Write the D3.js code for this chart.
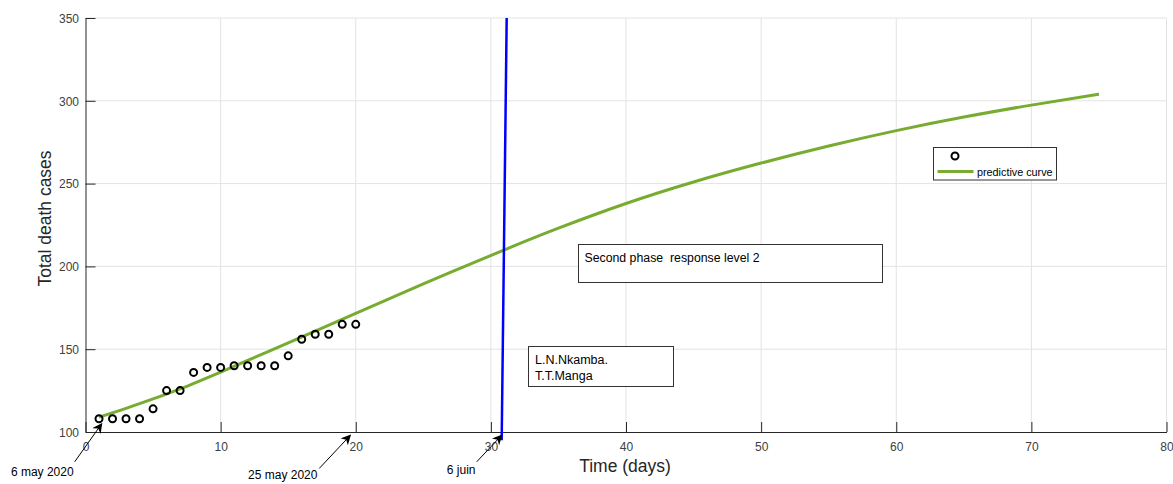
<!DOCTYPE html>
<html><head><meta charset="utf-8">
<script src="https://cdn.jsdelivr.net/npm/d3@7"></script>
<style>
html,body{margin:0;padding:0;background:#fff;}
text{font-family:"Liberation Sans",Arial,Helvetica,sans-serif;}
</style></head>
<body><svg id="chart" width="1173" height="484"></svg>
<script>
// ---- data ----
const days = [1,2,3,4,5,6,7,8,9,10,11,12,13,14,15,16,17,18,19,20];
const deaths = [108,108,108,108,114,125,125,136,139,139,140,140,140,140,146,156,159,159,165,165];
const curveX = [1,3,5,7,10,12,15,17,20,25,31,35,40,45,50,55,60,65,70,75];
const curveY = [109,114.3,120,126,136.2,143.2,153.8,160.9,171.6,189.4,210,223.1,238,251,262.4,272.7,282,290.2,297.4,304];
const blueX = [30.8,31.17];
const blueY = [95,350];
const xTicks = [0,10,20,30,40,50,60,70,80];
const yTicks = [100,150,200,250,300,350];
const arrowNotes = [
  {label:"6 may 2020", from:[-0.8,82], to:[1.2,105], text:[-3.2,73.5]},
  {label:"25 may 2020", from:[17.3,78], to:[19.6,98], text:[14.6,71.5]},
  {label:"6 juin", from:[28.95,82], to:[30.8,98], text:[27.8,74.5]}
];

// ---- layout ----
const svg = d3.select("#chart");
const L=85.5, R=1166.5, T=18, B=432;
const x = d3.scaleLinear().domain([0,80]).range([L,R]);
const y = d3.scaleLinear().domain([100,350]).range([B,T]);
const axisColor="#262626";

svg.append("defs").append("clipPath").attr("id","clip")
  .append("rect").attr("x",L).attr("y",T).attr("width",R-L).attr("height",B-T+10);

// grid
const grid = svg.append("g");
grid.selectAll(".gx").data(xTicks.slice(1)).enter().append("line")
  .attr("x1",d=>x(d)).attr("x2",d=>x(d)).attr("y1",T).attr("y2",B)
  .attr("stroke","#e3e3e3").attr("stroke-width",1);
grid.selectAll(".gy").data(yTicks.slice(1)).enter().append("line")
  .attr("y1",d=>y(d)).attr("y2",d=>y(d)).attr("x1",L).attr("x2",R)
  .attr("stroke","#e3e3e3").attr("stroke-width",1);

// axes
const xAxis = d3.axisBottom(x).tickValues(xTicks).tickSizeInner(-10).tickSizeOuter(0).tickFormat(d3.format("d"));
const yAxis = d3.axisLeft(y).tickValues(yTicks).tickSizeInner(-10).tickSizeOuter(0).tickFormat(d3.format("d"));
const gx = svg.append("g").attr("transform",`translate(0,${B})`).call(xAxis);
const gy = svg.append("g").attr("transform",`translate(${L},0)`).call(yAxis);
[gx,gy].forEach(g=>{
  g.select(".domain").attr("stroke",axisColor);
  g.selectAll(".tick line").attr("stroke",axisColor);
  g.selectAll(".tick text").attr("fill","#404040").style("font-size","12px")
   .style("font-family",'"Liberation Sans",Arial,sans-serif');
});
gx.selectAll(".tick text").attr("dy","0.35em").attr("y",15);
gy.selectAll(".tick text").attr("x",-6.5).attr("dy","0.35em");

// axis labels
svg.append("text").attr("x",625).attr("y",471.5).attr("text-anchor","middle")
  .style("font-size","17.5px").attr("fill","#262626").text("Time (days)");
svg.append("text").attr("transform",`translate(51,218.5) rotate(-90)`).attr("text-anchor","middle")
  .style("font-size","17.5px").attr("fill","#262626").text("Total death cases");

const plot = svg.append("g").attr("clip-path","url(#clip)");
// predictive curve
const line = d3.line().x(d=>x(d[0])).y(d=>y(d[1])).curve(d3.curveNatural);
plot.append("path").datum(curveX.map((v,i)=>[v,curveY[i]])).attr("d",line)
  .attr("fill","none").attr("stroke","#77AC30").attr("stroke-width",3);

// blue line
svg.append("g").append("path").datum(blueX.map((v,i)=>[v,blueY[i]]))
  .attr("d",d3.line().x(d=>x(d[0])).y(d=>y(d[1])))
  .attr("fill","none").attr("stroke","#0000FF").attr("stroke-width",2.5);

// data points
svg.append("g").selectAll("circle").data(days).enter().append("circle")
  .attr("cx",d=>x(d)).attr("cy",(d,i)=>y(deaths[i])).attr("r",3.5)
  .attr("fill","none").attr("stroke","#000").attr("stroke-width",2);

// arrows
const defs = svg.select("defs");
defs.append("marker").attr("id","ah").attr("viewBox","0 0 10 10").attr("refX",9).attr("refY",5)
  .attr("markerWidth",10).attr("markerHeight",10).attr("markerUnits","userSpaceOnUse").attr("orient","auto")
  .append("path").attr("d","M0,0 L10,5 L0,10 L3,5 Z").attr("fill","#000");
arrowNotes.forEach(a=>{
  svg.append("line").attr("x1",x(a.from[0])).attr("y1",y(a.from[1]))
    .attr("x2",x(a.to[0])).attr("y2",y(a.to[1]))
    .attr("stroke","#000").attr("stroke-width",1).attr("marker-end","url(#ah)");
  svg.append("text").attr("x",x(a.text[0])).attr("y",y(a.text[1])).attr("text-anchor","middle")
    .style("font-size","12px").attr("fill","#000").text(a.label);
});

// text boxes
function box(x0,y0,x1,y1,lines,tx,ty,lh,fs){
  svg.append("rect").attr("x",x0).attr("y",y0).attr("width",x1-x0).attr("height",y1-y0)
    .attr("fill","#fff").attr("stroke","#333").attr("stroke-width",1);
  lines.forEach((l,i)=>svg.append("text").attr("x",tx).attr("y",ty+i*lh)
    .style("font-size",fs).attr("fill","#000").style("white-space","pre").text(l));
}
box(578.5,244.5,882.5,282.5,["Second phase  response level 2"],584.5,261.5,0,"12.3px");
box(528.5,346.5,673.5,386.5,["L.N.Nkamba.","T.T.Manga"],535,363.5,16,"12.5px");

// legend
svg.append("rect").attr("x",933.5).attr("y",147.5).attr("width",123).attr("height",32.5)
  .attr("fill","#fff").attr("stroke","#333").attr("stroke-width",1);
svg.append("circle").attr("cx",955).attr("cy",156).attr("r",3.5).attr("fill","none").attr("stroke","#000").attr("stroke-width",2);
svg.append("line").attr("x1",937.5).attr("x2",973.5).attr("y1",171.5).attr("y2",171.5).attr("stroke","#77AC30").attr("stroke-width",3);
svg.append("text").attr("x",977).attr("y",176).style("font-size","10.8px").attr("fill","#000").text("predictive curve");
</script></body></html>
